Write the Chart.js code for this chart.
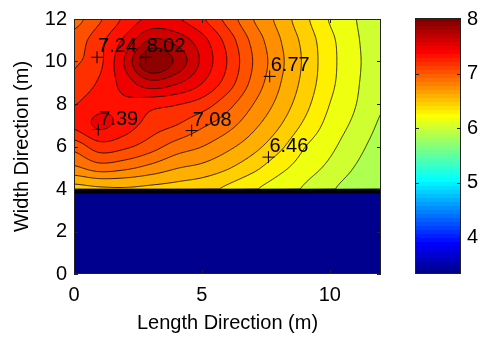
<!DOCTYPE html>
<html>
<head>
<meta charset="utf-8">
<script src="https://cdn.jsdelivr.net/npm/chart.js@4.4.1/dist/chart.umd.min.js"></script>
<style>
html, body { margin: 0; padding: 0; background: #fff; }
#wrap { position: relative; width: 480px; height: 338px; }
#wrap canvas { position: absolute; left: 0; top: 0; }
</style>
</head>
<body>
<div id="wrap">
  <canvas id="main" width="480" height="338"></canvas>
  <canvas id="cbar" width="480" height="338"></canvas>
</div>
<script>
// marked points
const sensorX = [0.9, 2.8, 7.65, 0.95, 4.6, 7.6]
const sensorY = [10.2, 10.2, 9.3, 6.8, 6.75, 5.5]
const sensorLabels = ['7.24', '8.02', '6.77', '7.39', '7.08', '6.46']

// field, 1 m grid, x = 0..12
const gridX = [0, 1, 2, 3, 4, 5, 6, 7, 8, 9, 10, 11, 12]
const gridY = [4, 5, 6, 7, 8, 9, 10, 11, 12]
const zY4  = [6.50, 6.53, 6.54, 6.52, 6.50, 6.46, 6.38, 6.28, 6.19, 6.10, 5.99, 5.90, 5.84]
const zY5  = [6.82, 6.92, 6.88, 6.80, 6.71, 6.66, 6.57, 6.45, 6.31, 6.19, 6.08, 5.96, 5.87]
const zY6  = [7.05, 7.22, 7.17, 7.06, 6.93, 6.85, 6.74, 6.61, 6.45, 6.27, 6.15, 6.02, 5.91]
const zY7  = [7.32, 7.46, 7.36, 7.22, 7.14, 7.02, 6.90, 6.74, 6.57, 6.38, 6.21, 6.08, 5.95]
const zY8  = [7.28, 7.38, 7.40, 7.34, 7.30, 7.22, 7.05, 6.85, 6.66, 6.46, 6.26, 6.12, 5.98]
const zY9  = [7.18, 7.31, 7.50, 7.68, 7.60, 7.44, 7.22, 6.95, 6.72, 6.51, 6.30, 6.14, 6.00]
const zY10 = [7.12, 7.25, 7.60, 8.02, 7.84, 7.55, 7.28, 6.99, 6.75, 6.53, 6.31, 6.15, 6.01]
const zY11 = [7.06, 7.24, 7.47, 7.74, 7.67, 7.49, 7.23, 6.95, 6.72, 6.51, 6.30, 6.14, 6.00]
const zY12 = [6.94, 7.12, 7.32, 7.47, 7.45, 7.31, 7.09, 6.85, 6.66, 6.45, 6.25, 6.12, 5.98]
const zRows = [zY4, zY5, zY6, zY7, zY8, zY9, zY10, zY11, zY12]

// the blue strip under y = 4
const wallTop = 4
const wallBottom = 3.8
const wallValue = 3.33

const colorMin = 3.33
const colorMax = 8.02
const nBands = 32

const xTicks = [0, 5, 10]
const yTicks = [0, 2, 4, 6, 8, 10, 12]
const cbarTicks = [4, 5, 6, 7, 8]

const FONT = '"Liberation Sans", Arial, sans-serif'
const tickFont = { family: FONT, size: 20, lineHeight: 1.2 }

// ---------- smooth surface between the grid nodes ----------
function cr(p0, p1, p2, p3, t) {
    return p1 + 0.5 * t * (p2 - p0 + t * (2 * p0 - 5 * p1 + 4 * p2 - p3 + t * (3 * (p1 - p2) + p3 - p0)))
}
function clampI(i, n) { return i < 0 ? 0 : (i > n - 1 ? n - 1 : i) }

function surface(x, y) {
    const nx = gridX.length, ny = gridY.length
    const gx = x - gridX[0], gy = y - gridY[0]
    const i = Math.min(Math.max(Math.floor(gx), 0), nx - 2)
    const j = Math.min(Math.max(Math.floor(gy), 0), ny - 2)
    const tx = gx - i, ty = gy - j
    const col = []
    for (let jj = j - 1; jj <= j + 2; jj++) {
        const r = zRows[clampI(jj, ny)]
        col.push(cr(r[clampI(i - 1, nx)], r[i], r[i + 1], r[clampI(i + 2, nx)], tx))
    }
    return cr(col[0], col[1], col[2], col[3], ty)
}

function field(x, y) {
    if (y >= wallTop) return surface(x, y)
    if (y <= wallBottom) return wallValue
    const t = (y - wallBottom) / (wallTop - wallBottom)
    return wallValue + t * (surface(x, wallTop) - wallValue)
}

const bandStep = (colorMax - colorMin) / nBands
const levels = []
for (let k = 1; k < nBands; k++) levels.push(colorMin + k * bandStep)

// fine sampling used for the contour lines
const gStep = 0.04
const gN = Math.round(12 / gStep) + 1
const fine = []
for (let j = 0; j < gN; j++) {
    const row = []
    for (let i = 0; i < gN; i++) row.push(field(i * gStep, j * gStep))
    fine.push(row)
}

// MATLAB jet(64)
function makeJet(m) {
    const n = Math.ceil(m / 4)
    const u = []
    for (let i = 1; i <= n; i++) u.push(i / n)
    for (let i = 1; i < n; i++) u.push(1)
    for (let i = n; i >= 1; i--) u.push(i / n)
    const off = Math.ceil(n / 2) - (m % 4 === 1 ? 1 : 0)
    const J = []
    for (let i = 0; i < m; i++) J.push([0, 0, 0])
    u.forEach((val, k) => {
        const g = off + k + 1, r = g + n, b = g - n
        if (r <= m) J[r - 1][0] = val
        if (g <= m) J[g - 1][1] = val
        if (b >= 1) J[b - 1][2] = val
    })
    return J.map(c => c.map(ch => Math.round(ch * 255)))
}
const jet = makeJet(64)

function colorOf(v) {
    let idx = Math.floor((v - colorMin) / (colorMax - colorMin) * 64 + 1e-9)
    if (idx < 0) idx = 0
    if (idx > 63) idx = 63
    return jet[idx]
}

function bandColor(v) {
    let k = Math.floor((v - colorMin) / bandStep)
    if (k < 0) k = 0
    if (k > nBands - 1) k = nBands - 1
    return colorOf(colorMin + k * bandStep)
}

// ---------- plugins ----------
const fieldPlugin = {
    id: 'field',
    beforeDatasetsDraw(chart) {
        const { ctx, chartArea: a, scales: { x, y } } = chart
        const L = Math.round(a.left), T = Math.round(a.top)
        const W = Math.round(a.right) - L, H = Math.round(a.bottom) - T
        const img = ctx.createImageData(W, H)
        for (let py = 0; py < H; py++) {
            const vy = y.getValueForPixel(T + py + 0.5)
            for (let px = 0; px < W; px++) {
                const vx = x.getValueForPixel(L + px + 0.5)
                const c = bandColor(field(vx, vy))
                const o = (py * W + px) * 4
                img.data[o] = c[0]; img.data[o + 1] = c[1]; img.data[o + 2] = c[2]; img.data[o + 3] = 255
            }
        }
        ctx.putImageData(img, L, T)

        // contour lines (marching squares)
        ctx.save()
        ctx.beginPath()
        ctx.rect(a.left, a.top, a.right - a.left, a.bottom - a.top)
        ctx.clip()
        ctx.strokeStyle = '#000'
        ctx.lineWidth = 0.8
        const P = (gx, gy) => [x.getPixelForValue(gx), y.getPixelForValue(gy)]
        levels.forEach(lev => {
            ctx.beginPath()
            for (let j = 0; j < gN - 1; j++) {
                for (let i = 0; i < gN - 1; i++) {
                    const v0 = fine[j][i], v1 = fine[j][i + 1], v2 = fine[j + 1][i + 1], v3 = fine[j + 1][i]
                    const x0 = i * gStep, x1 = x0 + gStep, y0 = j * gStep, y1 = y0 + gStep
                    const e = []
                    if ((v0 >= lev) !== (v1 >= lev)) e[0] = P(x0 + (lev - v0) / (v1 - v0) * gStep, y0)
                    if ((v1 >= lev) !== (v2 >= lev)) e[1] = P(x1, y0 + (lev - v1) / (v2 - v1) * gStep)
                    if ((v3 >= lev) !== (v2 >= lev)) e[2] = P(x0 + (lev - v3) / (v2 - v3) * gStep, y1)
                    if ((v0 >= lev) !== (v3 >= lev)) e[3] = P(x0, y0 + (lev - v0) / (v3 - v0) * gStep)
                    const pts = e.filter(p => p)
                    if (pts.length === 2) {
                        ctx.moveTo(pts[0][0], pts[0][1]); ctx.lineTo(pts[1][0], pts[1][1])
                    } else if (pts.length === 4) {
                        const c = (v0 + v1 + v2 + v3) / 4
                        const pairs = ((c >= lev) === (v0 >= lev)) ? [[0, 1], [2, 3]] : [[3, 0], [1, 2]]
                        pairs.forEach(([p, q]) => { ctx.moveTo(e[p][0], e[p][1]); ctx.lineTo(e[q][0], e[q][1]) })
                    }
                }
            }
            ctx.stroke()
        })
        ctx.restore()
    },
    afterDatasetsDraw(chart) {
        const { ctx, chartArea: a, scales: { x, y } } = chart
        ctx.save()
        ctx.fillStyle = '#000'
        ctx.font = '20px ' + FONT
        ctx.textAlign = 'left'
        ctx.textBaseline = 'alphabetic'
        sensorLabels.forEach((t, i) => {
            ctx.fillText(t, x.getPixelForValue(sensorX[i]) + 1, y.getPixelForValue(sensorY[i]) - 5)
        })
        // box + inner ticks
        ctx.strokeStyle = '#222'
        ctx.lineWidth = 1
        ctx.strokeRect(Math.round(a.left) + 0.5, Math.round(a.top) + 0.5, Math.round(a.right - a.left) - 1, Math.round(a.bottom - a.top) - 1)
        ctx.beginPath()
        xTicks.forEach(v => {
            const px = Math.round(x.getPixelForValue(v)) + 0.5
            ctx.moveTo(px, a.bottom); ctx.lineTo(px, a.bottom - 4)
            ctx.moveTo(px, a.top); ctx.lineTo(px, a.top + 4)
        })
        yTicks.forEach(v => {
            const py = Math.round(y.getPixelForValue(v)) + 0.5
            ctx.moveTo(a.left, py); ctx.lineTo(a.left + 4, py)
            ctx.moveTo(a.right, py); ctx.lineTo(a.right - 4, py)
        })
        ctx.stroke()
        ctx.restore()
    }
}

const cbarPlugin = {
    id: 'cbar',
    beforeDatasetsDraw(chart) {
        const { ctx, chartArea: a, scales: { y } } = chart
        ctx.save()
        for (let py = Math.round(a.top); py < Math.round(a.bottom); py++) {
            const c = colorOf(y.getValueForPixel(py + 0.5))
            ctx.fillStyle = 'rgb(' + c.join(',') + ')'
            ctx.fillRect(a.left, py, a.right - a.left, 1)
        }
        ctx.strokeStyle = '#222'
        ctx.lineWidth = 1
        ctx.strokeRect(Math.round(a.left) + 0.5, Math.round(a.top) + 0.5, Math.round(a.right - a.left) - 1, Math.round(a.bottom - a.top) - 1)
        ctx.beginPath()
        cbarTicks.forEach(v => {
            const py = Math.round(y.getPixelForValue(v)) + 0.5
            ctx.moveTo(a.left, py); ctx.lineTo(a.left + 4, py)
            ctx.moveTo(a.right, py); ctx.lineTo(a.right - 4, py)
        })
        ctx.stroke()
        ctx.restore()
    }
}

const noGrid = { display: false, drawTicks: false, tickLength: 0 }

// ---------- charts ----------
new Chart(document.getElementById('main'), {
    type: 'scatter',
    data: {
        datasets: [{
            data: sensorX.map((vx, i) => ({ x: vx, y: sensorY[i] })),
            pointStyle: 'cross',
            radius: 6,
            borderColor: '#000',
            backgroundColor: '#000',
            borderWidth: 1
        }]
    },
    options: {
        responsive: false,
        animation: false,
        devicePixelRatio: 1,
        layout: { padding: { top: 15, right: 99, left: 0, bottom: 0 } },
        plugins: { legend: { display: false }, tooltip: { enabled: false } },
        scales: {
            x: {
                type: 'linear', min: 0, max: 12,
                afterBuildTicks: s => { s.ticks = xTicks.map(v => ({ value: v })) },
                afterFit: s => { s.height = 64 },
                grid: noGrid,
                border: { display: false },
                ticks: { color: '#000', font: tickFont, padding: 9, maxRotation: 0 },
                title: { display: true, text: 'Length Direction (m)', color: '#000', font: tickFont, padding: { top: 0, bottom: 3 } }
            },
            y: {
                type: 'linear', min: 0, max: 12,
                afterBuildTicks: s => { s.ticks = yTicks.map(v => ({ value: v })) },
                afterFit: s => { s.width = 74 },
                grid: noGrid,
                border: { display: false },
                ticks: { color: '#000', font: tickFont, padding: 7 },
                title: { display: true, text: 'Width Direction (m)', color: '#000', font: tickFont, padding: { top: 10, bottom: 0 } }
            }
        }
    },
    plugins: [fieldPlugin]
})

new Chart(document.getElementById('cbar'), {
    type: 'scatter',
    data: { datasets: [{ data: [] }] },
    options: {
        responsive: false,
        animation: false,
        devicePixelRatio: 1,
        layout: { padding: { top: 15, right: 0, left: 415, bottom: 64 } },
        plugins: { legend: { display: false }, tooltip: { enabled: false } },
        scales: {
            x: { display: false, min: 0, max: 1 },
            y: {
                type: 'linear', position: 'right', min: colorMin, max: colorMax,
                afterBuildTicks: s => { s.ticks = cbarTicks.map(v => ({ value: v })) },
                afterFit: s => { s.width = 19 },
                grid: noGrid,
                border: { display: false },
                ticks: { color: '#000', font: tickFont, padding: 6 }
            }
        }
    },
    plugins: [cbarPlugin]
})
</script>
</body>
</html>
